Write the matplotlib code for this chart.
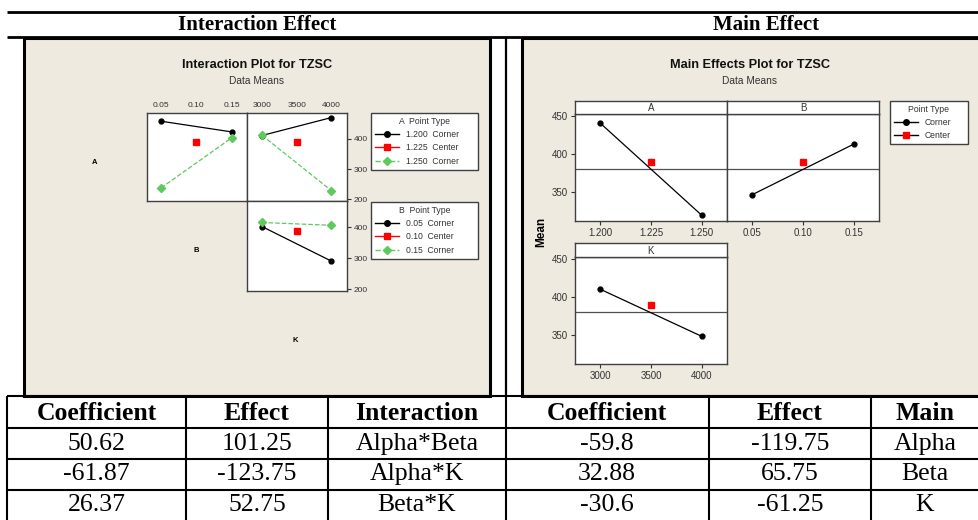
import matplotlib
matplotlib.use('Agg')
import matplotlib.pyplot as plt
from matplotlib.lines import Line2D
from matplotlib.patches import Rectangle

W, H = 979, 520

# interaction plot: cell means
b_levels = [0.05, 0.15]
k_levels = [3000, 4000]
a_lo_vs_b = [457, 422]    # A = 1.200
a_hi_vs_b = [238, 402]    # A = 1.250
a_lo_vs_k = [410, 469]
a_hi_vs_k = [411, 229]
b_lo_vs_k = [402, 291]    # B = 0.05
b_hi_vs_k = [415, 406]    # B = 0.15
center_b = 0.10
center_k = 3500
center_mean = 389

# main effects plot
a_levels = [1.200, 1.250]
center_a = 1.225
a_means = [440, 320.25]
b_means = [347, 412.75]
k_means = [410, 348.75]
grand_mean = 379.8

# table below the plots
table_head_left = ['Coefficient', 'Effect', 'Interaction']
coef_inter = ['50.62', '-61.87', '26.37']
eff_inter = ['101.25', '-123.75', '52.75']
name_inter = ['Alpha*Beta', 'Alpha*K', 'Beta*K']
table_head_right = ['Coefficient', 'Effect', 'Main']
coef_main = ['-59.8', '32.88', '-30.6']
eff_main = ['-119.75', '65.75', '-61.25']
name_main = ['Alpha', 'Beta', 'K']

beige = '#eeeae0'
green = '#5ccb5c'
frame = '#404040'
txt = '#333333'
plt.rcParams['font.family'] = ['Liberation Sans', 'DejaVu Sans']


def box(x0, y0, x1, y1):
    # pixel box -> figure fraction
    return [x0 / W, 1 - y1 / H, (x1 - x0) / W, (y1 - y0) / H]


def anchor(x0, y0, x1):
    # top-left corner + width, for legends
    return (x0 / W, 1 - y0 / H, (x1 - x0) / W, 0)


fig = plt.figure(figsize=(W / 100, H / 100), dpi=100)
fig.patch.set_facecolor('white')

bg = fig.add_axes([0, 0, 1, 1])
bg.set_xlim(0, W)
bg.set_ylim(H, 0)
bg.axis('off')

# panels and rules
bg.add_patch(Rectangle((24, 38), 466, 358, facecolor=beige, edgecolor='black', lw=2.2))
bg.add_patch(Rectangle((522, 38), 470, 358, facecolor=beige, edgecolor='black', lw=2.2))
bg.vlines(506, 37, 396, color='black', lw=1.6)
bg.hlines([12, 37], 7, W, color='black', lw=2)
bg.text(257, 25, 'Interaction Effect', family='Liberation Serif', weight='bold',
        fontsize=15, ha='center', va='center')
bg.text(766, 25, 'Main Effect', family='Liberation Serif', weight='bold',
        fontsize=15, ha='center', va='center')

# table
bg.hlines([396, 428, 459, 490], 7, W, color='black', lw=1.5)
bg.vlines([7, 186, 328, 506, 709, 871], 396, H, color='black', lw=1.5)
col_x = [96.5, 257, 417, 607, 790, 925]
heads = table_head_left + table_head_right
for cx, h in zip(col_x, heads):
    bg.text(cx, 413, h, family='Liberation Serif', weight='bold', fontsize=18.5,
            ha='center', va='center')
cols = [coef_inter, eff_inter, name_inter, coef_main, eff_main, name_main]
row_y = [444, 474, 505]
for cx, col in zip(col_x, cols):
    for ry, v in zip(row_y, col):
        bg.text(cx, ry, v, family='Liberation Serif', fontsize=18.5,
                ha='center', va='center')

# ---------------- interaction plot ----------------
bg.text(257, 65, 'Interaction Plot for TZSC', weight='bold', fontsize=9.2,
        ha='center', va='center', color='#111111')
bg.text(257, 81, 'Data Means', fontsize=7.3, ha='center', va='center', color=txt)
bg.text(95, 162, 'A', weight='bold', fontsize=5.5, ha='center', va='center')
bg.text(196, 251, 'B', weight='bold', fontsize=5.5, ha='center', va='center')
bg.text(295, 340, 'K', weight='bold', fontsize=5.5, ha='center', va='center')

ax_ab = fig.add_axes(box(147, 113, 247, 201))
ax_ak = fig.add_axes(box(247, 113, 347, 201))
ax_bk = fig.add_axes(box(247, 201, 347, 291))

ax_ab.plot(b_levels, a_lo_vs_b, 'o-', color='black', ms=3.5, lw=0.9)
ax_ab.plot(b_levels, a_hi_vs_b, 'D--', color=green, ms=4.5, lw=0.9)
ax_ab.plot(center_b, center_mean, 's', color='red', ms=4)

ax_ak.plot(k_levels, a_lo_vs_k, 'o-', color='black', ms=3.5, lw=0.9)
ax_ak.plot(k_levels, a_hi_vs_k, 'D--', color=green, ms=4.5, lw=0.9)
ax_ak.plot(center_k, center_mean, 's', color='red', ms=4)

ax_bk.plot(k_levels, b_lo_vs_k, 'o-', color='black', ms=3.5, lw=0.9)
ax_bk.plot(k_levels, b_hi_vs_k, 'D--', color=green, ms=4.5, lw=0.9)
ax_bk.plot(center_k, center_mean, 's', color='red', ms=4)

for ax in (ax_ab, ax_ak, ax_bk):
    ax.set_ylim(195, 484)
    for s in ax.spines.values():
        s.set_color(frame)
        s.set_linewidth(1)
    ax.tick_params(labelsize=6, colors=txt, length=0)
    ax.set_xticks([])
    ax.set_yticks([])
ax_ab.set_xlim(0.03, 0.172)
ax_ak.set_xlim(2785, 4225)
ax_bk.set_xlim(2785, 4225)

ax_ab.xaxis.tick_top()
ax_ab.set_xticks([0.05, 0.10, 0.15], ['0.05', '0.10', '0.15'])
ax_ak.xaxis.tick_top()
ax_ak.set_xticks([3000, 3500, 4000], ['3000', '3500', '4000'])
for ax in (ax_ak, ax_bk):
    ax.yaxis.tick_right()
    ax.set_yticks([200, 300, 400], ['200', '300', '400'])
    ax.tick_params(axis='y', length=3, width=0.8, direction='out', pad=2)
ax_ab.tick_params(axis='x', pad=3)
ax_ak.tick_params(axis='x', pad=3)

corner_h = Line2D([], [], color='black', marker='o', ms=4, lw=1)
center_h = Line2D([], [], color='red', marker='s', ms=4.5, lw=1)
green_h = Line2D([], [], color=green, marker='D', ms=4.5, lw=1, ls='--')
leg_kw = dict(loc='upper left', mode='expand', fontsize=6.2, title_fontsize=6.2,
              frameon=True, fancybox=False, edgecolor=frame, framealpha=1,
              borderpad=0.45, handlelength=2.8, handletextpad=0.8,
              labelspacing=0.5, borderaxespad=0)
leg1 = fig.legend([corner_h, center_h, green_h],
                  ['1.200  Corner', '1.225  Center', '1.250  Corner'],
                  title='A  Point Type', bbox_to_anchor=anchor(371, 113, 478), **leg_kw)
leg2 = fig.legend([corner_h, center_h, green_h],
                  ['0.05  Corner', '0.10  Center', '0.15  Corner'],
                  title='B  Point Type', bbox_to_anchor=anchor(371, 202, 478), **leg_kw)

# ---------------- main effects plot ----------------
bg.text(750, 65, 'Main Effects Plot for TZSC', weight='bold', fontsize=9.2,
        ha='center', va='center', color='#111111')
bg.text(750, 81, 'Data Means', fontsize=7.3, ha='center', va='center', color=txt)
bg.text(541, 232, 'Mean', weight='bold', fontsize=8.5, rotation=90,
        ha='center', va='center')

ax_a = fig.add_axes(box(575, 114, 727, 221))
ax_b = fig.add_axes(box(727, 114, 879, 221))
ax_k = fig.add_axes(box(575, 257, 727, 364))
panels = [(ax_a, a_levels, a_means, center_a, 'A', (575, 101, 727, 114)),
          (ax_b, b_levels, b_means, center_b, 'B', (727, 101, 879, 114)),
          (ax_k, k_levels, k_means, center_k, 'K', (575, 243, 727, 257))]
for ax, lv, mv, cv, name, sb in panels:
    ax.axhline(grand_mean, color='#505050', lw=0.9)
    ax.plot(lv, mv, 'o-', color='black', ms=3.5, lw=0.9)
    ax.plot(cv, center_mean, 's', color='red', ms=4)
    ax.set_ylim(312.7, 452)
    for s in ax.spines.values():
        s.set_color(frame)
        s.set_linewidth(1)
    ax.tick_params(labelsize=7, colors=txt, length=3, width=0.8, pad=2)
    ax.set_yticks([350, 400, 450], ['350', '400', '450'])
    strip = fig.add_axes(box(*sb))
    strip.set_xticks([])
    strip.set_yticks([])
    for s in strip.spines.values():
        s.set_color(frame)
        s.set_linewidth(1)
    strip.text(0.5, 0.45, name, fontsize=7, color=txt, ha='center', va='center',
               transform=strip.transAxes)

ax_a.set_xlim(1.1875, 1.2625)
ax_a.set_xticks([1.200, 1.225, 1.250], ['1.200', '1.225', '1.250'])
ax_b.set_xlim(0.025, 0.175)
ax_b.set_xticks([0.05, 0.10, 0.15], ['0.05', '0.10', '0.15'])
ax_b.tick_params(axis='y', left=False, labelleft=False)
ax_k.set_xlim(2750, 4250)
ax_k.set_xticks([3000, 3500, 4000], ['3000', '3500', '4000'])

main_center_h = Line2D([], [], color='black', marker='s', mfc='red', mec='red', ms=4.5, lw=1)
leg3 = fig.legend([corner_h, main_center_h], ['Corner', 'Center'], title='Point Type',
                  bbox_to_anchor=anchor(890, 101, 968), **leg_kw)

for lg in (leg1, leg2, leg3):
    lg.get_frame().set_linewidth(1)
    lg.get_title().set_color(txt)
    for t in lg.get_texts():
        t.set_color(txt)

fig.savefig('out.png', dpi=100)
